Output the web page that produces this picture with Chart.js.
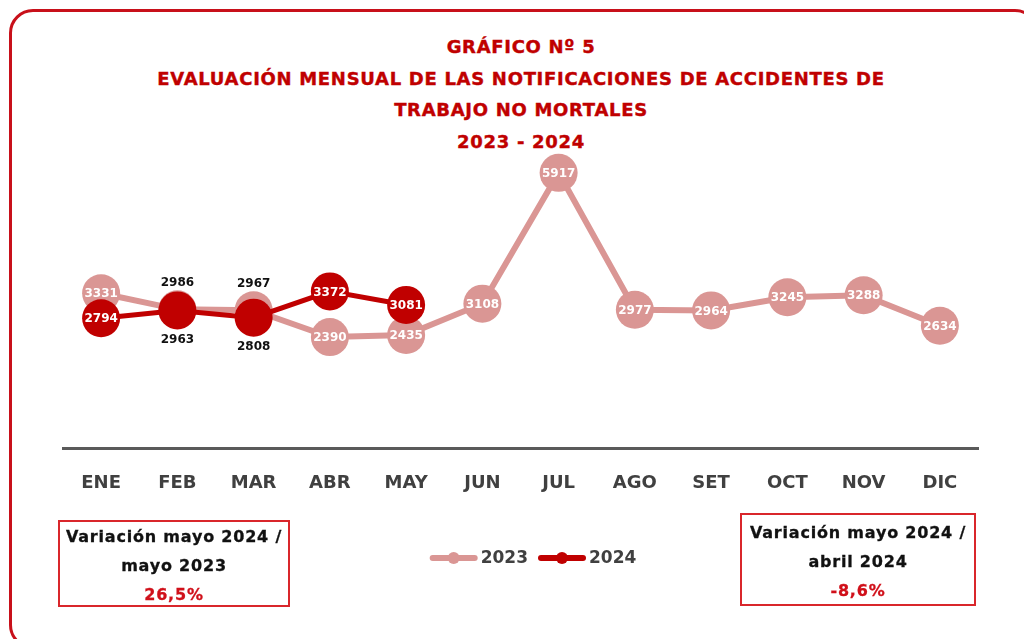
<!DOCTYPE html>
<html>
<head>
<meta charset="utf-8">
<script src="https://cdn.jsdelivr.net/npm/chart.js@4.4.1/dist/chart.umd.min.js"></script>
<style>
  html, body { margin: 0; padding: 0; background: #fff; overflow: hidden; }
  body { width: 1024px; height: 639px; position: relative; font-family: "DejaVu Sans", sans-serif; }
  #frame {
    position: absolute; left: 9px; top: 9px; width: 1030px; height: 640px;
    border: 3px solid #c8101a; border-radius: 24px; box-sizing: border-box;
  }
  #title {
    position: absolute; left: 0; top: 31px; width: 1042px; text-align: center;
    color: #c00000; font-weight: bold; font-size: 18px; line-height: 31.5px;
    letter-spacing: 0.7px; -webkit-text-stroke: 0.4px #c00000;
  }
  #chartBox { position: absolute; left: 0; top: 0; width: 1024px; height: 639px; }
  .note {
    position: absolute; border: 2px solid #d9262b; box-sizing: border-box;
    text-align: center; font-weight: bold; font-size: 16px; color: #111;
    line-height: 29px; padding-top: 0px; letter-spacing: 0.8px;
    -webkit-text-stroke: 0.3px #111;
  }
  .note .pct { color: #d0101a; -webkit-text-stroke: 0.3px #d0101a; }
</style>
</head>
<body>
<div id="frame"></div>
<div id="title">GRÁFICO Nº 5<br>EVALUACIÓN MENSUAL DE LAS NOTIFICACIONES DE ACCIDENTES DE<br>TRABAJO NO MORTALES<br>2023 - 2024</div>
<div id="chartBox"><canvas id="chart" width="1024" height="639"></canvas></div>
<div class="note" style="left:58px; top:520px; width:232px; height:87px;">Variación mayo 2024 /<br>mayo 2023<br><span class="pct">26,5%</span></div>
<div class="note" style="left:740px; top:513px; width:236px; height:93px; padding-top:3px;">Variación mayo 2024 /<br>abril 2024<br><span class="pct">-8,6%</span></div>

<script>
const months = ["ENE", "FEB", "MAR", "ABR", "MAY", "JUN", "JUL", "AGO", "SET", "OCT", "NOV", "DIC"];
const values2023 = [3331, 2986, 2967, 2390, 2435, 3108, 5917, 2977, 2964, 3245, 3288, 2634];
const values2024 = [2794, 2963, 2808, 3372, 3081];

// where each value label goes: inside the point, or above / below it
const labelPlace2023 = ["in", "above", "above", "in", "in", "in", "in", "in", "in", "in", "in", "in"];
const labelPlace2024 = ["in", "below", "below", "in", "in"];

const pink = "#da9694";
const red = "#c00000";
const fontFamily = "'DejaVu Sans'";

const valueLabels = {
  id: "valueLabels",
  afterDatasetsDraw(chart) {
    const ctx = chart.ctx;
    ctx.save();
    ctx.textAlign = "center";
    ctx.textBaseline = "middle";
    ctx.font = "bold 12px " + fontFamily;
    chart.data.datasets.forEach((ds, i) => {
      const meta = chart.getDatasetMeta(i);
      meta.data.forEach((pt, j) => {
        const v = ds.data[j];
        if (v == null) return;
        const place = ds.labelPlace[j];
        let y = pt.y;
        if (place === "in") {
          ctx.fillStyle = "#fff";
        } else {
          ctx.fillStyle = "#111";
          y = place === "above" ? pt.y - 27 : pt.y + 28;
        }
        ctx.fillText(v, pt.x, y + 1);
      });
    });
    ctx.restore();
  },
};

const lineLegend = {
  id: "lineLegend",
  afterDraw(chart) {
    const ctx = chart.ctx;
    const cx = 533, y = 558;
    ctx.save();
    ctx.font = "bold 17px " + fontFamily;
    ctx.textBaseline = "middle";
    const items = chart.data.datasets.map((ds) => ({
      text: ds.label,
      color: ds.borderColor,
      w: 48 + 3 + ctx.measureText(ds.label).width,
    }));
    const total = items.reduce((s, it) => s + it.w, 0) + 10 * (items.length - 1);
    let x = cx - total / 2;
    items.forEach((it) => {
      ctx.strokeStyle = it.color;
      ctx.lineWidth = 6;
      ctx.lineCap = "round";
      ctx.beginPath();
      ctx.moveTo(x + 3, y);
      ctx.lineTo(x + 45, y);
      ctx.stroke();
      ctx.fillStyle = it.color;
      ctx.beginPath();
      ctx.arc(x + 24, y, 6, 0, Math.PI * 2);
      ctx.fill();
      ctx.fillStyle = "#404040";
      ctx.fillText(it.text, x + 51, y + 1);
      x += it.w + 10;
    });
    ctx.restore();
  },
};

new Chart(document.getElementById("chart").getContext("2d"), {
  type: "line",
  data: {
    labels: months,
    datasets: [
      {
        label: "2023",
        data: values2023,
        labelPlace: labelPlace2023,
        borderColor: pink,
        backgroundColor: pink,
        borderWidth: 6,
        pointRadius: 19,
        pointHoverRadius: 19,
        pointBorderWidth: 0,
        clip: false,
        order: 2,
      },
      {
        label: "2024",
        data: values2024,
        labelPlace: labelPlace2024,
        borderColor: red,
        backgroundColor: red,
        borderWidth: 5,
        pointRadius: 19,
        pointHoverRadius: 19,
        pointBorderWidth: 0,
        clip: false,
        order: 1,
      },
    ],
  },
  options: {
    responsive: false,
    animation: false,
    layout: { padding: { left: 63, right: 46, top: 169, bottom: 121 } },
    plugins: {
      legend: { display: false },
      title: { display: false },
      tooltip: { enabled: false },
    },
    scales: {
      x: {
        offset: true,
        grid: { display: false, drawTicks: false },
        border: { display: true, color: "#5a5a5a", width: 3 },
        ticks: {
          color: "#404040",
          padding: 24,
          font: { family: fontFamily, size: 18, weight: "bold" },
        },
      },
      y: {
        display: false,
        min: 0,
        max: 6000,
      },
    },
  },
  plugins: [valueLabels, lineLegend],
});
</script>
</body>
</html>
